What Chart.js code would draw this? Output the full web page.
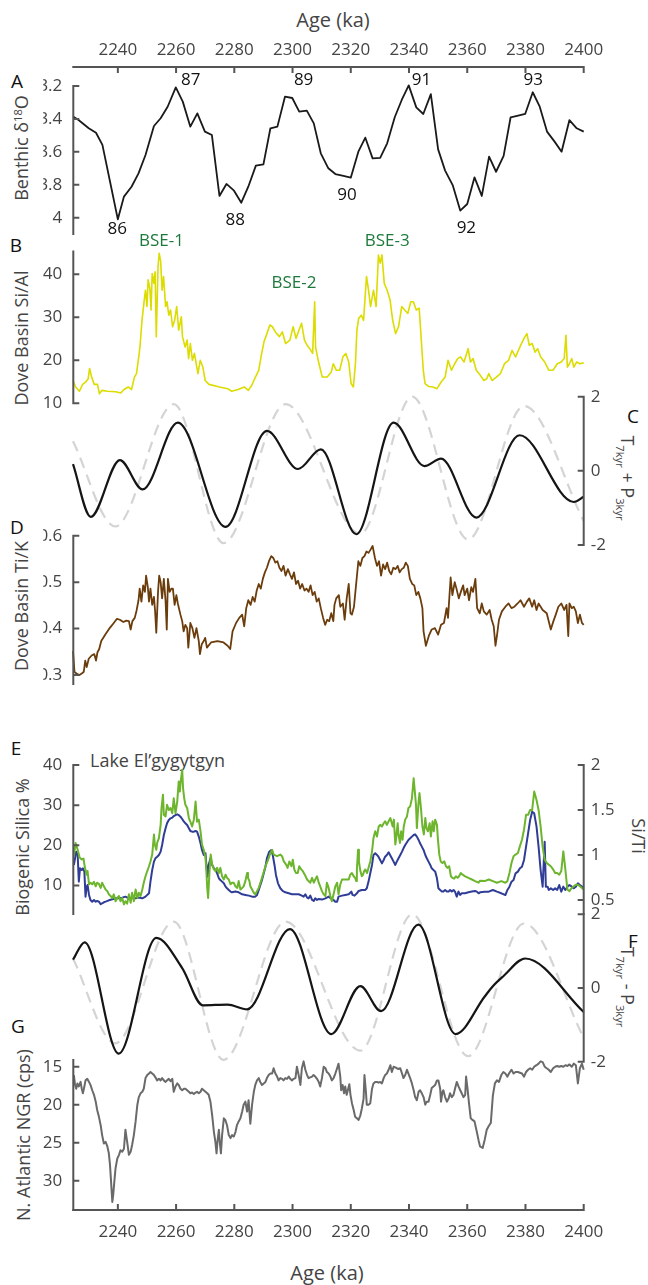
<!DOCTYPE html>
<html><head><meta charset="utf-8">
<script src="https://cdn.jsdelivr.net/npm/chart.js@4.4.1/dist/chart.umd.min.js"></script>
<style>
html,body{margin:0;padding:0;background:#fff;}
#wrap{position:relative;width:648px;height:1285px;overflow:hidden;font-family:'Open Sans',sans-serif;}
canvas{position:absolute;left:0;top:0;}
.t{position:absolute;white-space:nowrap;color:#444;font-size:18px;line-height:1;transform:translate(-50%,-50%);}
.lt{position:absolute;color:#111;font-size:19px;line-height:1;transform:translate(-50%,-50%);}
.rl{transform:translate(-50%,-50%) rotate(-90deg);}
.rr{transform:translate(-50%,-50%) rotate(90deg);}
sub{font-size:62%;line-height:0;vertical-align:-0.45em;}
sup{font-size:62%;line-height:0;vertical-align:0.55em;}
</style></head><body><div id="wrap">
<div class="t" style="left:333px;top:20px;font-size:20px">Age (ka)</div>
<div class="t" style="left:327px;top:1273px;font-size:20px">Age (ka)</div>
<div class="lt" style="left:17px;top:81px">A</div>
<div class="lt" style="left:16px;top:245px">B</div>
<div class="lt" style="left:633px;top:416px">C</div>
<div class="lt" style="left:17px;top:527px">D</div>
<div class="lt" style="left:16px;top:748px">E</div>
<div class="lt" style="left:633px;top:941px">F</div>
<div class="lt" style="left:18px;top:1026px">G</div>
<div class="t rl" style="left:21px;top:148px">Benthic δ<sup>18</sup>O</div>
<div class="t rl" style="left:21px;top:338px">Dove Basin Si/Al</div>
<div class="t rl" style="left:21px;top:606px">Dove Basin Ti/K</div>
<div class="t rl" style="left:22px;top:847px">Biogenic Silica %</div>
<div class="t rl" style="left:23px;top:1135px">N. Atlantic NGR (cps)</div>
<div class="t rr" style="left:639px;top:836px">Si/Ti</div>
<div class="t rr" style="left:628px;top:478px">T<sub>7kyr</sub> + P<sub>3kyr</sub></div>
<div class="t rr" style="left:628px;top:987px">T<sub>7kyr</sub> - P<sub>3kyr</sub></div>
<div class="t" style="left:90px;top:760px;transform:translate(0,-50%)">Lake El’gygytgyn</div>
</div>
<script>
// ---------------- data ----------------
const ageTicks = [2240,2260,2280,2300,2320,2340,2360,2380,2400];
const benthicTicks = [3.2,3.4,3.6,3.8,4];
const siAlTicks = [10,20,30,40];
const tiKTicks = [0.3,0.4,0.5,0.6];
const bsiTicks = [10,20,30,40];
const siTiTicks = [0.5,1,1.5,2];
const filterTicks = [-2,0,2];
const ngrTicks = [15,20,25,30];

const cycleLabels = ['86','87','88','89','90','91','92','93'];
const cycleAges = [2239.8,2265.0,2280.3,2303.8,2318.7,2344.3,2359.7,2382.7];
const cycleLevels = [4.072,3.167,4.014,3.167,3.862,3.167,4.066,3.167];
const bseLabels = ['BSE-1','BSE-2','BSE-3'];
const bseAges = [2255.0,2300.5,2332.5];
const bseLevels = [47.7,38.0,47.7];

const benthic = [[2224.6,3.386],[2226.5,3.407],[2230.0,3.457],[2232.5,3.484],[2234.7,3.558],[2237.2,3.771],[2240.0,4.010],[2242.1,3.872],[2244.7,3.812],[2247.1,3.731],[2249.5,3.619],[2252.4,3.443],[2254.7,3.396],[2257.1,3.326],[2259.9,3.208],[2262.3,3.295],[2264.9,3.447],[2267.3,3.366],[2269.9,3.477],[2272.3,3.498],[2274.9,3.868],[2277.3,3.795],[2279.9,3.836],[2282.4,3.909],[2284.8,3.812],[2287.4,3.684],[2290.0,3.676],[2292.4,3.457],[2294.8,3.447],[2297.4,3.265],[2299.9,3.273],[2302.3,3.356],[2304.9,3.350],[2307.3,3.427],[2309.7,3.609],[2312.3,3.700],[2314.7,3.735],[2317.1,3.745],[2320.0,3.757],[2322.6,3.599],[2325.0,3.514],[2327.5,3.640],[2330.1,3.637],[2332.5,3.548],[2335.1,3.390],[2337.5,3.285],[2339.9,3.196],[2342.5,3.330],[2344.9,3.370],[2347.5,3.249],[2350.0,3.585],[2352.4,3.714],[2355.0,3.802],[2357.6,3.957],[2360.0,3.917],[2362.5,3.755],[2365.0,3.868],[2367.5,3.629],[2369.9,3.721],[2372.5,3.625],[2374.9,3.390],[2377.5,3.380],[2379.9,3.370],[2382.5,3.238],[2384.9,3.326],[2387.4,3.477],[2390.0,3.538],[2392.4,3.599],[2395.1,3.407],[2397.6,3.457],[2400.0,3.477]];

const siAl = [[2224.6,15.3],[2225.5,13.8],[2226.8,12.8],[2227.9,14.4],[2228.9,14.9],[2229.8,15.7],[2230.3,18.1],[2231.0,16.1],[2231.9,14.4],[2233.0,14.4],[2233.7,12.2],[2234.5,13.0],[2236.4,12.8],[2239.3,12.7],[2241.0,12.4],[2242.1,13.2],[2243.6,13.8],[2244.7,13.2],[2245.7,16.1],[2246.4,16.9],[2247.1,20.4],[2247.6,23.1],[2248.3,29.3],[2249.0,33.6],[2249.5,36.3],[2250.0,32.5],[2250.4,38.7],[2251.0,36.7],[2251.4,31.7],[2251.8,40.2],[2252.4,37.9],[2252.8,40.6],[2253.2,25.5],[2253.8,41.8],[2254.2,44.9],[2254.7,43.0],[2255.2,36.3],[2255.7,39.5],[2256.4,32.5],[2256.9,33.6],[2257.5,30.5],[2258.1,31.7],[2258.8,27.8],[2259.5,29.3],[2260.2,32.5],[2260.9,27.0],[2261.8,30.1],[2262.2,25.5],[2263.1,23.1],[2263.8,24.7],[2264.3,20.4],[2264.9,23.9],[2265.6,20.0],[2266.3,21.6],[2267.5,16.9],[2268.3,20.0],[2269.2,18.4],[2270.0,15.3],[2271.3,14.4],[2274.9,13.8],[2277.7,13.4],[2279.1,12.8],[2281.3,13.2],[2283.4,13.8],[2284.8,13.0],[2286.0,14.2],[2287.0,15.7],[2288.4,17.7],[2289.4,21.6],[2290.2,24.3],[2291.2,26.2],[2292.2,28.2],[2293.1,27.8],[2294.1,26.6],[2295.5,25.5],[2296.5,26.6],[2297.6,23.9],[2299.1,24.7],[2300.2,27.8],[2301.2,25.1],[2302.2,27.0],[2303.1,28.6],[2304.1,24.7],[2305.0,23.5],[2305.9,22.7],[2306.9,21.6],[2307.6,33.6],[2307.9,23.1],[2308.8,20.0],[2310.2,16.1],[2311.9,16.1],[2313.3,17.3],[2314.0,19.2],[2315.0,17.7],[2316.2,17.7],[2317.3,20.8],[2318.3,21.6],[2319.3,19.6],[2320.1,14.6],[2320.9,13.8],[2321.6,19.2],[2322.1,27.0],[2322.7,29.7],[2323.6,30.5],[2324.4,29.3],[2325.4,39.5],[2326.1,36.3],[2326.8,32.5],[2327.8,36.3],[2328.7,32.5],[2329.5,44.5],[2330.1,42.6],[2330.7,44.5],[2331.5,37.9],[2332.5,36.3],[2333.5,34.0],[2334.4,29.3],[2335.4,26.2],[2336.4,27.8],[2337.5,32.5],[2338.5,31.7],[2339.6,30.9],[2340.6,33.6],[2341.5,33.6],[2342.5,31.7],[2343.5,32.1],[2344.3,23.9],[2344.9,17.7],[2345.5,14.6],[2346.8,13.9],[2348.2,13.8],[2349.6,13.4],[2351.0,14.9],[2352.4,16.1],[2353.4,20.0],[2354.6,17.7],[2355.7,19.2],[2356.7,20.4],[2357.7,20.8],[2358.9,19.6],[2360.3,22.7],[2361.1,19.6],[2362.0,20.4],[2363.1,17.7],[2364.5,16.5],[2365.7,15.3],[2366.7,15.7],[2367.4,16.9],[2368.5,15.3],[2370.0,16.1],[2371.4,16.9],[2372.8,19.2],[2374.2,20.0],[2375.4,22.3],[2376.6,20.8],[2378.1,23.1],[2379.5,25.1],[2380.5,26.2],[2381.3,23.5],[2382.3,23.9],[2383.3,21.9],[2384.2,22.7],[2385.2,20.8],[2386.6,19.6],[2388.0,17.7],[2389.5,17.7],[2390.9,19.2],[2392.3,19.6],[2393.3,20.4],[2393.9,25.8],[2394.4,18.4],[2395.1,19.2],[2395.9,20.4],[2396.6,18.4],[2397.6,19.6],[2398.7,19.2],[2400.0,19.4]];

const obliquity = [[2224.6,0.8],[2239.1,-1.5],[2259.2,1.8],[2276.3,-1.95],[2297.6,1.8],[2323.3,-1.7],[2341.1,2.0],[2360.3,-1.85],[2379.5,1.75],[2400.0,-1.35]];

const tPlusP = [[2224.6,0.18],[2230.7,-1.24],[2240.7,0.29],[2248.5,-0.50],[2260.6,1.30],[2277.0,-1.51],[2291.2,1.08],[2301.9,0.05],[2309.7,0.58],[2321.9,-1.71],[2334.7,1.30],[2345.3,0.13],[2351.0,0.33],[2363.1,-1.26],[2378.0,0.96],[2396.6,-0.84],[2400.0,-0.70]];

const tiK = [[2224.6,0.352],[2225.1,0.307],[2225.8,0.303],[2226.8,0.300],[2227.6,0.303],[2228.3,0.307],[2228.8,0.331],[2229.3,0.317],[2230.0,0.335],[2231.0,0.342],[2231.9,0.345],[2232.5,0.331],[2233.0,0.349],[2233.6,0.356],[2234.3,0.373],[2235.7,0.387],[2237.2,0.401],[2238.6,0.412],[2239.7,0.421],[2240.7,0.419],[2241.9,0.414],[2242.9,0.417],[2243.8,0.416],[2244.4,0.398],[2245.0,0.416],[2245.8,0.423],[2246.4,0.438],[2247.1,0.461],[2247.5,0.486],[2248.1,0.458],[2248.7,0.493],[2249.3,0.479],[2249.7,0.514],[2250.3,0.489],[2250.7,0.458],[2251.2,0.486],[2251.8,0.451],[2252.4,0.468],[2252.8,0.437],[2253.2,0.391],[2253.8,0.479],[2254.2,0.514],[2254.7,0.500],[2255.2,0.465],[2255.8,0.507],[2256.4,0.458],[2256.8,0.398],[2257.2,0.507],[2257.8,0.479],[2258.4,0.486],[2258.9,0.486],[2259.5,0.451],[2260.1,0.472],[2260.6,0.454],[2261.5,0.430],[2262.1,0.416],[2262.6,0.394],[2263.2,0.408],[2263.8,0.401],[2264.2,0.359],[2264.9,0.412],[2265.6,0.401],[2266.3,0.380],[2267.0,0.401],[2267.8,0.373],[2268.2,0.345],[2268.8,0.366],[2269.5,0.373],[2270.0,0.380],[2270.6,0.359],[2272.0,0.370],[2274.2,0.373],[2276.3,0.370],[2277.7,0.363],[2278.6,0.356],[2279.4,0.394],[2280.6,0.412],[2281.7,0.423],[2282.7,0.430],[2283.4,0.405],[2284.1,0.444],[2284.8,0.461],[2285.6,0.451],[2286.3,0.468],[2287.0,0.458],[2287.7,0.482],[2288.4,0.496],[2289.1,0.486],[2289.8,0.507],[2290.5,0.521],[2291.2,0.531],[2291.9,0.545],[2292.7,0.556],[2293.4,0.552],[2294.1,0.542],[2294.8,0.545],[2295.5,0.531],[2296.2,0.524],[2296.9,0.535],[2297.6,0.514],[2298.4,0.528],[2299.1,0.517],[2299.8,0.507],[2300.5,0.521],[2301.2,0.496],[2301.9,0.503],[2302.6,0.486],[2303.3,0.496],[2304.1,0.482],[2304.8,0.486],[2305.5,0.479],[2306.2,0.493],[2306.9,0.472],[2307.6,0.479],[2308.3,0.458],[2309.0,0.465],[2309.7,0.444],[2310.5,0.423],[2311.2,0.408],[2311.9,0.419],[2312.6,0.416],[2313.3,0.433],[2314.0,0.416],[2314.4,0.451],[2315.0,0.465],[2315.9,0.472],[2316.4,0.447],[2317.3,0.454],[2317.9,0.419],[2318.6,0.465],[2319.3,0.496],[2319.9,0.433],[2320.4,0.430],[2321.1,0.447],[2321.8,0.493],[2322.6,0.545],[2323.3,0.535],[2324.0,0.552],[2324.7,0.556],[2325.4,0.566],[2326.1,0.563],[2326.8,0.570],[2327.5,0.578],[2328.3,0.552],[2329.0,0.535],[2329.7,0.545],[2330.4,0.514],[2331.1,0.538],[2331.8,0.528],[2332.5,0.542],[2333.2,0.524],[2333.9,0.517],[2334.6,0.531],[2335.4,0.528],[2336.1,0.535],[2336.8,0.521],[2337.5,0.528],[2338.2,0.531],[2338.9,0.542],[2339.6,0.535],[2340.3,0.507],[2341.1,0.496],[2341.8,0.493],[2342.5,0.472],[2343.2,0.479],[2343.9,0.465],[2344.6,0.444],[2345.0,0.394],[2345.8,0.363],[2346.8,0.384],[2347.8,0.398],[2348.9,0.401],[2350.0,0.387],[2351.0,0.408],[2352.0,0.412],[2352.9,0.444],[2353.4,0.423],[2354.3,0.510],[2354.9,0.472],[2355.7,0.500],[2356.3,0.486],[2357.1,0.465],[2357.8,0.479],[2358.6,0.493],[2359.1,0.472],[2360.0,0.486],[2360.6,0.461],[2361.4,0.489],[2362.0,0.479],[2362.8,0.507],[2363.4,0.444],[2364.3,0.433],[2365.0,0.454],[2365.7,0.437],[2366.7,0.430],[2367.7,0.440],[2368.4,0.419],[2369.1,0.405],[2369.7,0.363],[2370.2,0.384],[2370.9,0.419],[2371.9,0.437],[2373.1,0.447],[2374.2,0.454],[2375.2,0.444],[2376.2,0.447],[2377.3,0.454],[2378.3,0.461],[2379.5,0.447],[2380.5,0.458],[2381.3,0.465],[2382.3,0.447],[2383.0,0.461],[2383.8,0.440],[2384.5,0.454],[2385.9,0.440],[2387.3,0.433],[2388.7,0.398],[2389.6,0.416],[2390.4,0.430],[2391.3,0.447],[2392.3,0.454],[2393.3,0.440],[2394.1,0.451],[2394.7,0.384],[2395.1,0.454],[2395.9,0.444],[2396.6,0.447],[2397.3,0.437],[2398.0,0.412],[2398.7,0.430],[2399.4,0.412],[2400.0,0.408]];

const bsi = [[2224.9,17.3],[2225.5,20.6],[2226.2,18.9],[2226.9,16.9],[2227.6,16.5],[2228.2,16.7],[2228.7,14.4],[2229.3,12.7],[2229.6,13.6],[2230.1,10.3],[2230.6,10.7],[2231.2,10.3],[2231.8,10.9],[2232.4,9.8],[2232.9,10.7],[2233.5,10.4],[2234.1,9.4],[2234.6,10.7],[2235.2,9.8],[2235.8,9.0],[2236.4,8.6],[2236.9,7.8],[2237.5,7.4],[2238.1,6.9],[2238.6,7.8],[2239.2,6.1],[2239.8,6.9],[2240.4,7.4],[2240.9,6.1],[2241.5,6.9],[2242.1,5.3],[2242.6,6.1],[2243.2,5.5],[2243.8,7.8],[2244.4,5.7],[2244.9,8.2],[2245.5,6.1],[2246.1,9.0],[2246.7,6.9],[2247.2,8.2],[2247.8,7.4],[2248.4,9.0],[2248.9,10.7],[2249.5,12.3],[2250.1,13.6],[2250.7,14.8],[2251.2,16.0],[2251.8,17.7],[2252.4,22.7],[2252.7,20.2],[2253.2,18.9],[2253.5,20.6],[2254.1,21.8],[2254.7,25.1],[2255.0,29.3],[2255.5,32.6],[2255.8,27.6],[2256.4,27.2],[2256.9,30.1],[2257.5,28.8],[2258.1,29.3],[2258.7,28.0],[2259.2,31.7],[2259.8,28.0],[2260.4,30.9],[2260.9,35.9],[2261.3,33.4],[2261.6,35.9],[2262.1,38.8],[2262.4,34.2],[2262.8,31.7],[2263.2,30.1],[2263.8,29.3],[2264.4,26.8],[2264.9,25.9],[2265.5,24.7],[2266.1,26.4],[2266.7,30.9],[2267.2,25.9],[2267.8,26.4],[2268.4,23.5],[2268.9,20.2],[2269.5,18.9],[2270.1,16.9],[2270.4,13.6],[2270.7,9.4],[2271.0,6.9],[2271.5,13.6],[2271.9,17.7],[2272.4,15.2],[2273.0,14.0],[2273.5,13.6],[2274.1,14.4],[2274.7,13.1],[2275.2,14.4],[2275.8,12.3],[2276.4,11.5],[2277.0,12.7],[2277.5,11.9],[2278.1,11.5],[2278.7,10.3],[2279.2,10.7],[2279.8,10.7],[2280.4,9.8],[2281.0,9.4],[2281.5,11.1],[2282.1,9.0],[2282.7,9.4],[2283.2,9.8],[2283.8,11.1],[2284.4,13.1],[2284.7,11.9],[2285.2,11.1],[2285.5,9.8],[2286.1,9.0],[2286.7,8.2],[2287.2,7.8],[2287.8,8.6],[2288.4,9.4],[2289.5,11.9],[2290.7,14.8],[2291.6,16.4],[2292.4,18.1],[2293.0,18.9],[2293.5,17.7],[2294.7,17.3],[2295.8,17.7],[2296.4,17.3],[2297.0,16.0],[2297.8,15.2],[2298.3,14.4],[2298.9,16.0],[2299.6,14.8],[2300.1,16.4],[2300.6,14.0],[2301.2,13.1],[2301.8,13.1],[2302.3,14.8],[2303.0,14.0],[2303.5,13.6],[2304.2,12.7],[2305.0,11.5],[2305.5,11.1],[2306.1,10.7],[2306.7,11.9],[2307.3,10.7],[2307.8,11.5],[2308.4,12.3],[2309.0,10.7],[2309.5,9.8],[2310.1,8.6],[2310.7,7.8],[2311.3,7.4],[2311.8,10.7],[2312.4,9.4],[2313.0,7.4],[2313.5,6.1],[2314.1,7.8],[2314.7,9.8],[2315.3,10.7],[2315.8,7.8],[2316.4,10.3],[2317.0,11.5],[2318.1,11.5],[2319.3,11.5],[2319.8,12.7],[2320.4,13.1],[2321.0,12.3],[2321.5,11.9],[2321.9,11.1],[2322.1,14.0],[2322.5,18.9],[2322.8,16.0],[2323.3,13.6],[2323.8,12.3],[2324.2,12.7],[2324.6,13.6],[2325.0,14.0],[2325.6,13.1],[2326.1,14.4],[2326.7,16.0],[2327.3,18.5],[2327.8,21.8],[2328.4,23.5],[2329.0,22.2],[2329.6,24.7],[2330.1,25.1],[2330.7,24.7],[2331.3,25.5],[2331.8,26.0],[2332.4,25.1],[2333.0,26.0],[2333.6,26.8],[2333.9,26.0],[2334.4,24.7],[2334.8,26.4],[2335.3,20.2],[2335.6,21.8],[2336.1,25.5],[2336.4,22.7],[2336.9,20.6],[2337.3,23.5],[2337.8,21.4],[2338.2,24.7],[2338.7,26.4],[2339.3,27.2],[2339.8,29.3],[2340.4,29.7],[2341.0,31.7],[2341.6,36.7],[2341.9,34.2],[2342.4,30.1],[2342.7,24.3],[2343.3,30.9],[2343.6,33.0],[2344.1,29.3],[2344.6,24.7],[2345.1,22.7],[2345.6,26.8],[2346.0,24.3],[2346.5,23.5],[2347.1,25.5],[2347.5,22.2],[2348.1,26.0],[2348.5,23.5],[2349.0,26.4],[2349.6,25.1],[2349.9,21.8],[2350.4,17.7],[2350.9,16.0],[2351.5,15.6],[2352.1,16.0],[2352.7,14.8],[2353.2,14.4],[2353.8,14.8],[2354.4,12.3],[2354.9,11.9],[2355.5,11.7],[2356.1,12.3],[2356.7,11.9],[2357.2,12.3],[2357.8,13.1],[2358.4,12.7],[2359.3,12.3],[2360.4,11.9],[2361.6,11.5],[2362.7,11.1],[2363.9,10.7],[2364.4,11.2],[2366.0,11.1],[2367.4,11.5],[2368.8,11.1],[2370.2,10.7],[2371.7,11.1],[2373.1,10.7],[2373.8,11.1],[2374.5,13.1],[2375.2,15.6],[2375.9,17.3],[2376.6,17.7],[2377.4,18.1],[2378.1,19.8],[2378.8,21.4],[2379.5,23.9],[2380.2,27.6],[2380.9,27.6],[2381.6,28.8],[2382.3,28.8],[2383.0,33.4],[2383.8,31.3],[2384.5,28.8],[2385.2,24.7],[2385.9,19.7],[2386.6,16.4],[2387.3,15.6],[2388.0,15.2],[2388.7,14.8],[2389.5,14.0],[2390.2,13.1],[2390.9,13.1],[2391.6,12.7],[2392.3,13.6],[2393.0,18.5],[2393.7,14.0],[2394.4,9.0],[2395.1,8.6],[2395.9,9.4],[2396.6,9.8],[2397.3,10.2],[2398.0,10.2],[2398.7,9.8],[2399.4,9.4],[2400.0,9.0]];

const siTi = [[2224.9,0.889],[2225.3,0.963],[2225.7,1.037],[2226.2,1.000],[2226.6,0.704],[2227.0,0.852],[2227.6,0.833],[2228.0,0.852],[2228.5,0.815],[2228.9,0.537],[2229.3,0.648],[2229.6,0.667],[2230.1,0.556],[2230.6,0.500],[2231.2,0.481],[2231.8,0.500],[2232.4,0.481],[2232.9,0.489],[2233.5,0.481],[2234.1,0.452],[2234.6,0.463],[2235.2,0.474],[2235.8,0.481],[2236.9,0.496],[2238.1,0.507],[2239.2,0.518],[2240.4,0.518],[2241.5,0.526],[2242.6,0.537],[2243.8,0.518],[2244.9,0.526],[2246.1,0.518],[2247.2,0.526],[2248.4,0.518],[2249.5,0.537],[2250.7,0.574],[2251.2,0.704],[2251.8,0.833],[2252.4,0.926],[2252.9,0.963],[2253.5,0.981],[2254.1,1.000],[2254.7,1.037],[2255.2,1.111],[2255.8,1.222],[2256.4,1.296],[2256.9,1.352],[2257.5,1.389],[2258.1,1.407],[2258.7,1.415],[2259.2,1.433],[2259.8,1.444],[2260.4,1.452],[2260.9,1.444],[2261.5,1.426],[2262.1,1.400],[2262.7,1.370],[2263.2,1.352],[2263.8,1.333],[2264.4,1.296],[2264.9,1.267],[2265.5,1.259],[2266.1,1.259],[2266.7,1.267],[2267.2,1.259],[2267.8,1.204],[2268.4,1.130],[2268.9,1.056],[2269.5,1.000],[2270.1,1.019],[2270.4,0.889],[2270.8,0.759],[2271.2,0.889],[2271.8,0.963],[2272.4,0.889],[2273.0,0.852],[2273.5,0.833],[2274.1,0.796],[2274.7,0.741],[2275.2,0.722],[2275.8,0.704],[2276.4,0.685],[2277.0,0.648],[2277.5,0.630],[2278.1,0.611],[2278.7,0.593],[2279.2,0.585],[2280.4,0.593],[2281.5,0.585],[2282.7,0.563],[2283.8,0.556],[2285.0,0.548],[2286.1,0.537],[2287.2,0.537],[2287.8,0.556],[2288.4,0.611],[2289.5,0.722],[2290.7,0.870],[2291.2,0.963],[2292.0,1.037],[2292.7,1.056],[2293.2,1.000],[2293.8,0.889],[2294.3,0.778],[2295.0,0.685],[2295.8,0.630],[2296.6,0.600],[2297.5,0.585],[2298.7,0.574],[2299.8,0.563],[2301.0,0.563],[2302.1,0.563],[2303.2,0.548],[2303.8,0.537],[2304.4,0.563],[2305.0,0.526],[2305.5,0.518],[2306.1,0.548],[2306.7,0.500],[2307.3,0.489],[2307.8,0.518],[2308.4,0.500],[2309.0,0.511],[2310.1,0.504],[2311.3,0.518],[2312.4,0.537],[2313.5,0.507],[2314.1,0.500],[2314.7,0.481],[2315.3,0.481],[2315.8,0.537],[2317.0,0.548],[2318.1,0.556],[2319.3,0.563],[2320.2,0.593],[2320.6,0.556],[2321.3,0.548],[2322.1,0.574],[2322.7,0.600],[2323.8,0.611],[2325.0,0.611],[2325.5,0.630],[2326.1,0.704],[2326.7,0.796],[2327.3,0.889],[2327.8,1.000],[2328.4,1.019],[2329.0,1.000],[2329.5,0.981],[2330.1,0.944],[2330.7,0.907],[2331.3,0.944],[2331.8,0.981],[2332.4,1.000],[2333.0,1.030],[2333.5,1.000],[2334.1,0.963],[2334.7,0.926],[2335.3,0.889],[2335.8,0.926],[2336.4,0.963],[2337.0,1.000],[2337.6,1.037],[2338.1,1.074],[2338.7,1.111],[2339.3,1.141],[2339.8,1.167],[2340.4,1.185],[2341.0,1.204],[2341.6,1.222],[2342.1,1.230],[2342.7,1.204],[2343.3,1.167],[2343.8,1.130],[2344.4,1.093],[2345.0,1.056],[2345.6,1.000],[2346.1,0.963],[2346.7,0.926],[2347.3,0.889],[2347.8,0.852],[2348.4,0.833],[2349.0,0.815],[2349.6,0.741],[2350.1,0.630],[2350.7,0.611],[2351.3,0.593],[2351.8,0.593],[2352.4,0.611],[2353.0,0.593],[2353.6,0.593],[2354.1,0.611],[2354.7,0.593],[2355.3,0.611],[2355.8,0.593],[2356.4,0.537],[2357.0,0.593],[2357.6,0.556],[2358.1,0.574],[2359.3,0.574],[2360.4,0.585],[2361.6,0.593],[2362.7,0.600],[2363.3,0.593],[2363.9,0.574],[2364.4,0.585],[2366.0,0.592],[2367.4,0.592],[2368.8,0.611],[2370.2,0.592],[2371.7,0.574],[2373.1,0.555],[2373.8,0.611],[2374.5,0.648],[2375.2,0.703],[2375.9,0.722],[2376.6,0.796],[2377.4,0.815],[2378.1,0.852],[2378.8,0.870],[2379.5,0.944],[2380.2,1.092],[2380.9,1.241],[2381.6,1.389],[2382.3,1.481],[2383.0,1.463],[2383.8,1.315],[2384.5,1.092],[2385.2,0.833],[2385.9,0.648],[2386.6,1.148],[2387.0,0.648],[2387.6,0.648],[2388.0,0.611],[2388.7,0.629],[2389.5,0.611],[2390.2,0.629],[2390.9,0.611],[2391.6,0.666],[2392.3,0.592],[2393.0,0.648],[2393.7,0.611],[2394.4,0.648],[2395.1,0.666],[2395.9,0.648],[2396.6,0.629],[2397.3,0.648],[2398.0,0.685],[2398.7,0.666],[2399.4,0.648],[2400.0,0.629]];

const tMinusP = [[2224.6,0.77],[2228.6,1.24],[2240.3,-1.78],[2253.2,1.36],[2262.1,0.54],[2269.2,-0.47],[2277.7,-0.45],[2284.4,-0.58],[2299.1,1.60],[2313.3,-1.25],[2323.3,0.05],[2330.4,-0.63],[2343.2,1.72],[2356.0,-1.25],[2366.0,-0.23],[2368.8,0.05],[2372.4,0.32],[2379.9,0.80],[2400.0,-0.65]];

const ngr = [[2224.9,16.1],[2225.3,17.4],[2225.7,17.9],[2226.1,17.2],[2226.6,17.6],[2227.2,17.0],[2227.6,17.9],[2228.0,18.5],[2228.5,17.6],[2228.9,16.8],[2229.5,16.6],[2230.1,17.0],[2230.6,17.4],[2231.2,18.1],[2231.8,18.7],[2232.4,19.6],[2232.9,20.7],[2233.5,21.6],[2234.1,22.7],[2234.6,24.0],[2235.2,25.1],[2235.8,24.9],[2236.4,25.5],[2236.9,26.4],[2237.3,27.9],[2237.6,29.7],[2238.1,32.8],[2238.4,31.9],[2238.8,30.1],[2239.2,28.4],[2239.8,27.1],[2240.4,26.6],[2240.9,26.0],[2241.5,26.2],[2242.1,25.8],[2242.6,23.3],[2243.2,24.9],[2243.8,26.6],[2244.4,26.2],[2244.9,25.3],[2245.5,24.0],[2246.1,22.2],[2246.7,20.0],[2247.2,19.0],[2247.8,18.5],[2248.4,18.3],[2248.9,17.9],[2249.5,16.5],[2250.1,16.1],[2250.7,15.9],[2251.2,15.7],[2251.8,15.9],[2252.4,16.1],[2252.9,16.4],[2253.5,16.8],[2254.1,16.6],[2254.7,16.8],[2255.2,16.5],[2255.8,16.8],[2256.4,17.0],[2256.9,16.8],[2257.5,16.6],[2258.1,16.9],[2258.7,16.6],[2259.2,18.3],[2259.8,17.6],[2260.4,17.2],[2260.9,17.4],[2261.5,17.9],[2262.1,18.1],[2262.7,17.9],[2263.2,17.9],[2263.8,18.1],[2264.4,18.3],[2264.9,18.5],[2265.5,18.4],[2266.1,18.6],[2266.7,18.4],[2267.2,18.3],[2267.8,18.5],[2268.4,18.3],[2268.9,17.9],[2269.5,18.1],[2270.1,18.3],[2270.7,18.5],[2271.2,18.7],[2271.8,19.6],[2272.4,21.4],[2273.0,23.6],[2273.5,24.9],[2273.9,26.4],[2274.2,24.9],[2274.7,23.3],[2275.0,24.9],[2275.4,26.4],[2275.8,24.0],[2276.4,21.8],[2276.9,22.0],[2277.5,22.7],[2278.1,24.0],[2278.7,24.4],[2279.2,24.0],[2279.8,24.2],[2280.4,23.6],[2280.9,22.7],[2281.5,22.2],[2282.1,21.8],[2282.7,20.9],[2283.2,20.0],[2283.8,19.6],[2284.4,20.9],[2284.9,19.4],[2285.5,22.5],[2286.1,20.0],[2286.7,18.3],[2287.2,17.4],[2287.8,16.8],[2288.4,16.5],[2288.9,17.0],[2289.5,17.4],[2290.1,17.2],[2290.7,17.0],[2291.2,16.5],[2291.8,16.1],[2292.4,15.9],[2293.0,15.9],[2293.5,15.2],[2294.1,15.9],[2294.7,16.3],[2295.2,16.8],[2295.8,16.5],[2296.4,16.6],[2296.9,16.8],[2297.5,16.5],[2298.1,16.6],[2298.7,16.3],[2299.2,16.6],[2299.8,16.8],[2300.4,16.6],[2301.0,16.5],[2301.5,15.0],[2302.1,16.1],[2302.7,17.4],[2303.2,15.2],[2303.8,14.3],[2304.4,15.4],[2305.0,16.1],[2305.5,16.5],[2306.1,16.4],[2306.7,16.3],[2307.2,16.1],[2307.8,16.3],[2308.4,16.6],[2309.0,17.0],[2309.5,17.6],[2310.1,16.5],[2310.7,15.0],[2311.3,15.2],[2311.8,15.7],[2312.4,15.9],[2313.0,16.3],[2313.5,16.8],[2314.1,16.5],[2314.7,15.9],[2315.3,15.2],[2315.8,14.6],[2316.4,16.3],[2316.7,18.1],[2317.2,17.4],[2317.7,18.5],[2318.1,17.6],[2318.6,18.7],[2319.0,18.1],[2319.5,17.3],[2319.9,18.7],[2320.4,19.8],[2321.0,20.7],[2321.5,21.6],[2322.1,21.8],[2322.7,22.0],[2323.3,21.4],[2323.8,20.5],[2324.4,19.2],[2324.7,16.1],[2325.2,18.3],[2325.5,20.0],[2326.1,20.0],[2326.7,19.8],[2327.3,17.9],[2327.8,17.2],[2328.4,17.0],[2329.0,17.0],[2329.5,17.1],[2330.1,17.0],[2330.7,17.2],[2331.3,16.5],[2331.8,16.1],[2332.4,15.9],[2333.0,15.4],[2333.6,14.8],[2334.1,15.7],[2334.7,15.0],[2335.3,15.1],[2335.8,15.2],[2336.4,15.3],[2337.0,15.2],[2337.6,15.9],[2338.1,16.5],[2338.7,16.1],[2339.3,15.4],[2339.8,15.9],[2340.4,16.5],[2341.0,17.2],[2341.6,18.1],[2342.1,19.0],[2342.7,19.4],[2343.3,18.3],[2343.8,18.1],[2344.4,18.5],[2345.0,19.0],[2345.6,20.0],[2346.1,19.6],[2346.7,19.6],[2347.3,18.7],[2347.8,17.8],[2348.4,17.6],[2349.0,17.4],[2349.6,16.8],[2350.1,16.8],[2350.7,17.9],[2351.0,19.6],[2351.5,18.3],[2351.8,18.1],[2352.4,19.0],[2353.0,19.6],[2353.6,19.2],[2354.1,18.5],[2354.7,19.0],[2355.3,18.7],[2355.8,17.9],[2356.4,17.0],[2357.0,17.6],[2357.6,18.1],[2358.1,18.5],[2358.7,19.0],[2359.3,18.7],[2359.6,16.3],[2360.1,17.9],[2360.6,19.8],[2361.2,21.8],[2361.8,22.0],[2362.5,22.2],[2363.3,23.6],[2363.9,24.7],[2364.4,25.5],[2365.3,25.7],[2366.0,24.6],[2366.7,23.3],[2367.4,22.8],[2368.1,22.4],[2368.8,18.8],[2369.5,17.2],[2370.2,16.8],[2370.9,17.0],[2371.7,16.1],[2372.4,15.7],[2373.1,15.9],[2373.8,16.3],[2374.5,15.8],[2375.2,15.4],[2375.9,15.9],[2376.6,15.7],[2377.4,15.7],[2378.1,15.8],[2378.8,15.9],[2379.5,16.3],[2380.2,15.7],[2380.9,15.4],[2381.6,15.2],[2382.3,15.4],[2383.0,15.0],[2383.8,14.8],[2384.5,14.6],[2385.2,14.3],[2385.9,14.4],[2386.6,15.0],[2387.3,15.2],[2388.0,15.4],[2388.7,15.7],[2389.5,15.2],[2390.2,15.0],[2390.9,14.9],[2391.6,15.0],[2392.3,14.9],[2393.0,15.0],[2393.7,14.8],[2394.4,14.9],[2395.1,14.7],[2395.9,15.0],[2396.6,14.6],[2397.3,14.8],[2398.0,17.2],[2398.7,15.2],[2399.4,14.6],[2400.0,15.4]];

// ---------------- layout ----------------
const W = 648, H = 1285;
const X_MIN = 2224.7, X_MAX = 2400;
const PLOT_L = 73.3, PLOT_R = 583.7, AXW = 30;
const FONT = "'Open Sans', sans-serif";
Chart.defaults.font.family = FONT;
const wrap = document.getElementById('wrap');

const axisDeco = {
  id: 'axisDeco',
  afterDraw(chart, _a, o) {
    const ctx = chart.ctx, ca = chart.chartArea;
    ctx.save();
    ctx.strokeStyle = '#555'; ctx.lineWidth = 2; ctx.lineCap = 'square';
    (o.axes || []).forEach(a => {
      const s = chart.scales[a.id];
      ctx.beginPath();
      if (s.isHorizontal()) {
        const y = a.side === 'top' ? ca.top : ca.bottom, d = a.side === 'top' ? 1 : -1;
        ctx.moveTo(s.getPixelForValue(s.min), y); ctx.lineTo(s.getPixelForValue(s.max), y);
        s.ticks.forEach(t => { const x = s.getPixelForValue(t.value); ctx.moveTo(x, y); ctx.lineTo(x, y + d * 5); });
      } else {
        const x = a.side === 'left' ? ca.left : ca.right, d = a.side === 'left' ? 1 : -1;
        ctx.moveTo(x, s.getPixelForValue(a.from)); ctx.lineTo(x, s.getPixelForValue(a.to));
        s.ticks.forEach(t => { const y = s.getPixelForValue(t.value); ctx.moveTo(x, y); ctx.lineTo(x + d * 5, y); });
      }
      ctx.stroke();
    });
    ctx.restore();
  }
};
const notes = {
  id: 'notes',
  afterDatasetsDraw(chart, _a, o) {
    const ctx = chart.ctx; ctx.save();
    ctx.textAlign = 'center'; ctx.textBaseline = 'middle';
    (o.items || []).forEach(n => {
      ctx.font = n.font; ctx.fillStyle = n.color;
      ctx.fillText(n.text, chart.scales.x.getPixelForValue(n.x), chart.scales.y.getPixelForValue(n.y));
    });
    ctx.restore();
  }
};

function xScale(pos) {
  if (!pos) return { type: 'linear', min: X_MIN, max: X_MAX, display: false };
  return {
    type: 'linear', min: X_MIN, max: X_MAX, position: pos,
    grid: { display: false, drawTicks: false, tickLength: 0 }, border: { display: false },
    ticks: { color: '#444', font: { size: 17 }, padding: pos === 'top' ? 7 : 12, maxRotation: 0, autoSkip: false, callback: v => String(v) },
    afterBuildTicks: s => { s.ticks = ageTicks.map(v => ({ value: v })); },
    afterFit: s => { s.height = 30; }
  };
}
function yScale(pos, min, max, ticks, reverse) {
  return {
    type: 'linear', position: pos, min, max, reverse: !!reverse,
    grid: { display: false, drawTicks: false, tickLength: 0 }, border: { display: false },
    ticks: { color: '#444', font: { size: 17 }, padding: pos === 'left' ? 11 : 7, autoSkip: false, callback: v => String(v) },
    afterBuildTicks: s => { s.ticks = ticks.map(v => ({ value: v })); },
    afterFit: s => { s.width = AXW; }
  };
}
function line(data, color, width, extra) {
  return Object.assign({
    data: data.map(p => ({ x: p[0], y: p[1] })), borderColor: color, borderWidth: width,
    pointRadius: 0, tension: 0, fill: false, clip: false, borderJoinStyle: 'round'
  }, extra || {});
}
function panel(o) {
  const cv = document.createElement('canvas'); cv.width = W; cv.height = H; wrap.appendChild(cv);
  const scales = { x: xScale(o.xPos) };
  Object.assign(scales, o.scales);
  const hasL = Object.values(o.scales).some(s => s.position === 'left');
  const hasR = Object.values(o.scales).some(s => s.position === 'right');
  new Chart(cv, {
    type: 'line',
    data: { datasets: o.datasets },
    options: {
      responsive: false, animation: false, devicePixelRatio: 1, events: [],
      layout: { padding: { left: PLOT_L - (hasL ? AXW : 0), right: W - PLOT_R - (hasR ? AXW : 0), top: o.padTop, bottom: o.padBottom } },
      scales,
      plugins: { legend: { display: false }, tooltip: { enabled: false }, axisDeco: { axes: o.axes }, notes: { items: o.notes || [] } }
    },
    plugins: [axisDeco, notes]
  });
}
const smooth = { cubicInterpolationMode: 'monotone' };
const dashed = Object.assign({ borderDash: [11, 7], order: 2 }, smooth);

// A: benthic d18O
panel({
  xPos: 'top', padTop: 37, padBottom: H - 234,
  scales: { y: yScale('left', 3.0846, 4.0992, benthicTicks, true) },
  datasets: [line(benthic, '#1a1a1a', 1.8)],
  axes: [{ id: 'x', side: 'top' }, { id: 'y', side: 'left', from: 3.2, to: 4.0992 }],
  notes: cycleLabels.map((t, i) => ({ text: t, x: cycleAges[i], y: cycleLevels[i], font: "17px 'Open Sans'", color: '#111' }))
});
// B: Si/Al
panel({
  padTop: 245, padBottom: H - 403.3,
  scales: { y: yScale('left', 10, 46.81, siAlTicks) },
  datasets: [line(siAl, '#dcdc00', 1.6)],
  axes: [{ id: 'y', side: 'left', from: 10, to: 45.3 }],
  notes: bseLabels.map((t, i) => ({ text: t, x: bseAges[i], y: bseLevels[i], font: "17px 'Open Sans'", color: '#1d7a3c' }))
});
// C: T7kyr + P3kyr
panel({
  padTop: 396.7, padBottom: H - 545,
  scales: { y: yScale('right', -2, 2, filterTicks) },
  datasets: [line(obliquity, '#d4d4d4', 2.2, dashed), line(tPlusP, '#151515', 2.2, Object.assign({ order: 1 }, smooth))],
  axes: [{ id: 'y', side: 'right', from: -2, to: 2 }]
});
// D: Ti/K
panel({
  padTop: 535.7, padBottom: H - 684,
  scales: { y: yScale('left', 0.2806, 0.6, tiKTicks) },
  datasets: [line(tiK, '#6b3c0c', 1.8)],
  axes: [{ id: 'y', side: 'left', from: 0.2806, to: 0.6 }]
});
// E: Lake El'gygytgyn
panel({
  padTop: 765, padBottom: H - 914,
  scales: { y: yScale('left', 2.91, 40, bsiTicks), y1: yScale('right', 0.344, 2, siTiTicks) },
  datasets: [line(siTi, '#2f3d96', 2, { yAxisID: 'y1', order: 2 }), line(bsi, '#6cb52d', 2, { order: 1 })],
  axes: [{ id: 'y', side: 'left', from: 2.91, to: 40 }, { id: 'y1', side: 'right', from: 0.344, to: 2 }]
});
// F: T7kyr - P3kyr
panel({
  padTop: 914.3, padBottom: H - 1061.7,
  scales: { y: yScale('right', -2, 2, filterTicks) },
  datasets: [line(obliquity, '#d4d4d4', 2.2, dashed), line(tMinusP, '#151515', 2.2, Object.assign({ order: 1 }, smooth))],
  axes: [{ id: 'y', side: 'right', from: -2, to: 2 }]
});
// G: NGR
panel({
  xPos: 'bottom', padTop: 1060, padBottom: 45,
  scales: { y: yScale('left', 14.118, 33.86, ngrTicks, true) },
  datasets: [line(ngr, '#6a6a6a', 2)],
  axes: [{ id: 'x', side: 'bottom' }, { id: 'y', side: 'left', from: 14.118, to: 33.86 }]
});
</script>
</body></html>
